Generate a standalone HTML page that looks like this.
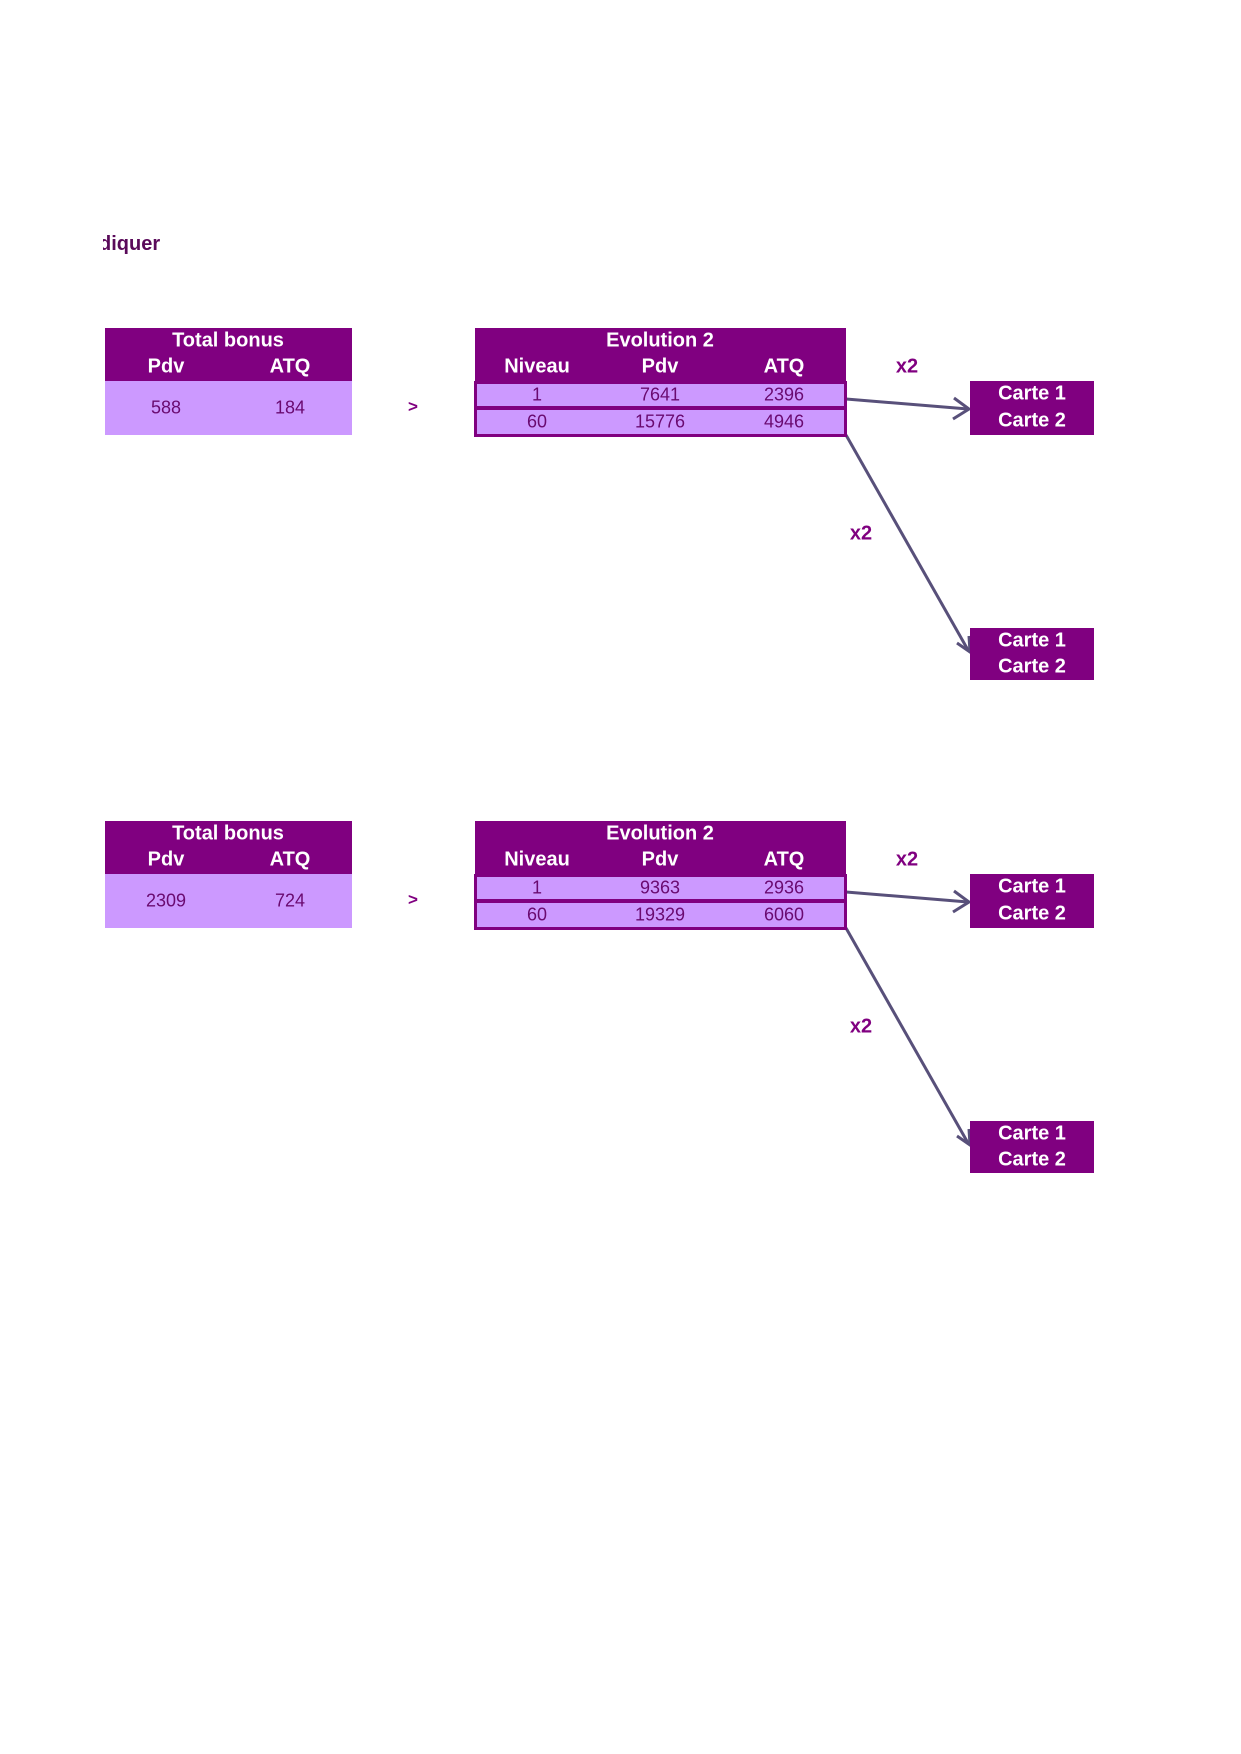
<!DOCTYPE html>
<html><head><meta charset="utf-8"><style>
body{margin:0;width:1241px;height:1754px;background:#fff;position:relative;overflow:hidden;font-family:"Liberation Sans",sans-serif}
.a{position:absolute}
.h{background:#800080}
.d{background:#cc99ff}
.t{position:absolute;transform:translate(-50%,-45%);white-space:nowrap}
.w{color:#fff;font-weight:bold;font-size:20px}
.p{color:#6a0a70;font-size:18px}
.b{color:#800080;font-weight:bold;font-size:20px}
.row{position:absolute;background:#cc99ff;border:3px solid #800080;box-sizing:border-box}
</style></head><body>
<div class="a" style="left:103px;top:233px;width:80px;overflow:hidden;height:30px"><div style="margin-left:-4px;color:#5a0a5a;font-weight:bold;font-size:20px">diquer</div></div>

<svg class="a" style="left:0;top:0" width="1241" height="1754">
<g stroke="#58507a" stroke-width="3" fill="none">
<line x1="846" y1="399" x2="968" y2="409"/><polyline points="954,398 969,409 953,419"/>
<line x1="846" y1="435" x2="968" y2="650"/><polyline points="957,643 970,652 969,636"/>
<line x1="846" y1="892" x2="968" y2="902"/><polyline points="954,891 969,902 953,912"/>
<line x1="846" y1="928" x2="968" y2="1143"/><polyline points="957,1136 970,1145 969,1129"/>
</g></svg>
<!-- group 1 -->
<div class="a h" style="left:105px;top:328px;width:247px;height:53px"></div>
<div class="a d" style="left:105px;top:381px;width:247px;height:54px"></div>
<div class="t w" style="left:228px;top:340px">Total bonus</div>
<div class="t w" style="left:166px;top:366px">Pdv</div>
<div class="t w" style="left:290px;top:366px">ATQ</div>
<div class="t p" style="left:166px;top:407px">588</div>
<div class="t p" style="left:290px;top:407px">184</div>
<div class="t b" style="left:413px;top:406px;font-size:17px">&gt;</div>
<div class="a h" style="left:475px;top:328px;width:371px;height:55px"></div>
<div class="row" style="left:474px;top:381px;width:373px;height:28px"></div>
<div class="row" style="left:474px;top:407px;width:373px;height:30px"></div>
<div class="t w" style="left:660px;top:340px">Evolution 2</div>
<div class="t w" style="left:537px;top:366px">Niveau</div>
<div class="t w" style="left:660px;top:366px">Pdv</div>
<div class="t w" style="left:784px;top:366px">ATQ</div>
<div class="t p" style="left:537px;top:394px">1</div>
<div class="t p" style="left:660px;top:394px">7641</div>
<div class="t p" style="left:784px;top:394px">2396</div>
<div class="t p" style="left:537px;top:421px">60</div>
<div class="t p" style="left:660px;top:421px">15776</div>
<div class="t p" style="left:784px;top:421px">4946</div>
<div class="t b" style="left:907px;top:366px">x2</div>
<div class="t b" style="left:861px;top:533px">x2</div>
<div class="a h" style="left:970px;top:381px;width:124px;height:54px"></div>
<div class="t w" style="left:1032px;top:393px">Carte 1</div>
<div class="t w" style="left:1032px;top:420px">Carte 2</div>
<div class="a h" style="left:970px;top:628px;width:124px;height:52px"></div>
<div class="t w" style="left:1032px;top:640px">Carte 1</div>
<div class="t w" style="left:1032px;top:666px">Carte 2</div>
<!-- group 2 -->
<div class="a h" style="left:105px;top:821px;width:247px;height:53px"></div>
<div class="a d" style="left:105px;top:874px;width:247px;height:54px"></div>
<div class="t w" style="left:228px;top:833px">Total bonus</div>
<div class="t w" style="left:166px;top:859px">Pdv</div>
<div class="t w" style="left:290px;top:859px">ATQ</div>
<div class="t p" style="left:166px;top:900px">2309</div>
<div class="t p" style="left:290px;top:900px">724</div>
<div class="t b" style="left:413px;top:899px;font-size:17px">&gt;</div>
<div class="a h" style="left:475px;top:821px;width:371px;height:55px"></div>
<div class="row" style="left:474px;top:874px;width:373px;height:28px"></div>
<div class="row" style="left:474px;top:900px;width:373px;height:30px"></div>
<div class="t w" style="left:660px;top:833px">Evolution 2</div>
<div class="t w" style="left:537px;top:859px">Niveau</div>
<div class="t w" style="left:660px;top:859px">Pdv</div>
<div class="t w" style="left:784px;top:859px">ATQ</div>
<div class="t p" style="left:537px;top:887px">1</div>
<div class="t p" style="left:660px;top:887px">9363</div>
<div class="t p" style="left:784px;top:887px">2936</div>
<div class="t p" style="left:537px;top:914px">60</div>
<div class="t p" style="left:660px;top:914px">19329</div>
<div class="t p" style="left:784px;top:914px">6060</div>
<div class="t b" style="left:907px;top:859px">x2</div>
<div class="t b" style="left:861px;top:1026px">x2</div>
<div class="a h" style="left:970px;top:874px;width:124px;height:54px"></div>
<div class="t w" style="left:1032px;top:886px">Carte 1</div>
<div class="t w" style="left:1032px;top:913px">Carte 2</div>
<div class="a h" style="left:970px;top:1121px;width:124px;height:52px"></div>
<div class="t w" style="left:1032px;top:1133px">Carte 1</div>
<div class="t w" style="left:1032px;top:1159px">Carte 2</div>
</body></html>
